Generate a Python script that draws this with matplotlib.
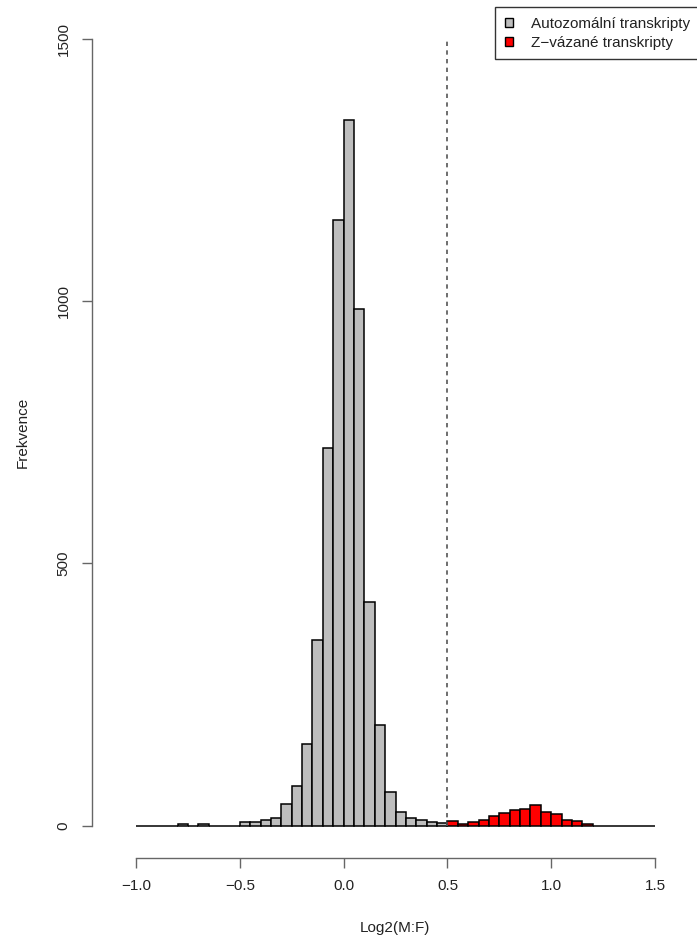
import numpy as np
import matplotlib
matplotlib.use("Agg")
import matplotlib.pyplot as plt
from matplotlib.patches import Patch

plt.rcParams['font.family'] = ['Liberation Sans', 'DejaVu Sans']

# Histogram bins (width 0.05)
bin_width = 0.05
auto_left = -1.0   # autosomal bins start
z_left = 0.5       # Z-linked bins start

auto_counts = [0, 0, 0, 0, 2, 0, 2, 0, 0, 0,
               6, 7, 10, 15, 41, 75, 156, 354, 720, 1154,
               1345, 985, 427, 192, 64, 25, 14, 10, 7, 5]
z_counts = [8, 3, 6, 11, 18, 24, 30, 32, 39, 25,
            22, 11, 8, 2, 0, 0, 0, 0, 0, 0]

x_ticks = [-1.0, -0.5, 0.0, 0.5, 1.0, 1.5]
x_ticklabels = ["\u22121.0", "\u22120.5", "0.0", "0.5", "1.0", "1.5"]
y_ticks = [0, 500, 1000, 1500]
threshold = 0.5

legend_labels = ["Autozomální transkripty", "Z\u2212vázané transkripty"]
x_label = "Log2(M:F)"
y_label = "Frekvence"

W, H = 697, 939
fig = plt.figure(figsize=(W / 100, H / 100), dpi=100)
left_px, right_px, top_px, bottom_px = 92, 697, 7.5, 857.5
ax = fig.add_axes([left_px / W, 1 - bottom_px / H,
                   (right_px - left_px) / W, (bottom_px - top_px) / H])

ax.set_xlim(-1.212, 1.702)
ax.set_ylim(-61.0, 1560.1)

auto_edges = auto_left + bin_width * np.arange(len(auto_counts))
z_edges = z_left + bin_width * np.arange(len(z_counts))

ax.bar(auto_edges, auto_counts, width=bin_width, align='edge',
       color='#BEBEBE', edgecolor='black', linewidth=1.1, zorder=2)
ax.bar(z_edges, z_counts, width=bin_width, align='edge',
       color='#FF0000', edgecolor='black', linewidth=1.1, zorder=3)

ax.plot([threshold, threshold], [0, 1500], color='#555555',
        linewidth=1.2, linestyle=(0, (2.6, 2.6)), zorder=4)

# R-style detached axes
for side in ('top', 'right'):
    ax.spines[side].set_visible(False)
ax.spines['left'].set_bounds(0, 1500)
ax.spines['bottom'].set_bounds(-1.0, 1.5)
for side in ('left', 'bottom'):
    ax.spines[side].set_color('#666666')
    ax.spines[side].set_linewidth(1.0)

ax.set_xticks(x_ticks)
ax.set_xticklabels(x_ticklabels)
ax.set_yticks(y_ticks)
ax.set_yticklabels([str(v) for v in y_ticks], rotation=90, va='center')
ax.tick_params(axis='both', direction='out', length=7.5, width=1.0,
               color='#666666', labelsize=11, labelcolor='#222222')
ax.tick_params(axis='x', pad=8)
ax.tick_params(axis='y', pad=8)

ax.set_xlabel(x_label, fontsize=11, color='#222222', labelpad=20)
ax.set_ylabel(y_label, fontsize=11, color='#222222', labelpad=19)

handles = [Patch(facecolor='#BEBEBE', edgecolor='black', linewidth=1.0),
           Patch(facecolor='#FF0000', edgecolor='black', linewidth=1.0)]
leg = fig.legend(handles, legend_labels, loc='upper left',
                 bbox_to_anchor=(495 / W, 1 - 7 / H),
                 bbox_transform=fig.transFigure,
                 fontsize=11, frameon=True, fancybox=False,
                 handlelength=0.55, handleheight=0.55, handletextpad=1.15,
                 labelspacing=0.3, borderpad=0.65, borderaxespad=0)
leg.get_frame().set_edgecolor('black')
leg.get_frame().set_linewidth(1.0)
for t in leg.get_texts():
    t.set_color('#222222')

fig.savefig("out.png", dpi=100)
